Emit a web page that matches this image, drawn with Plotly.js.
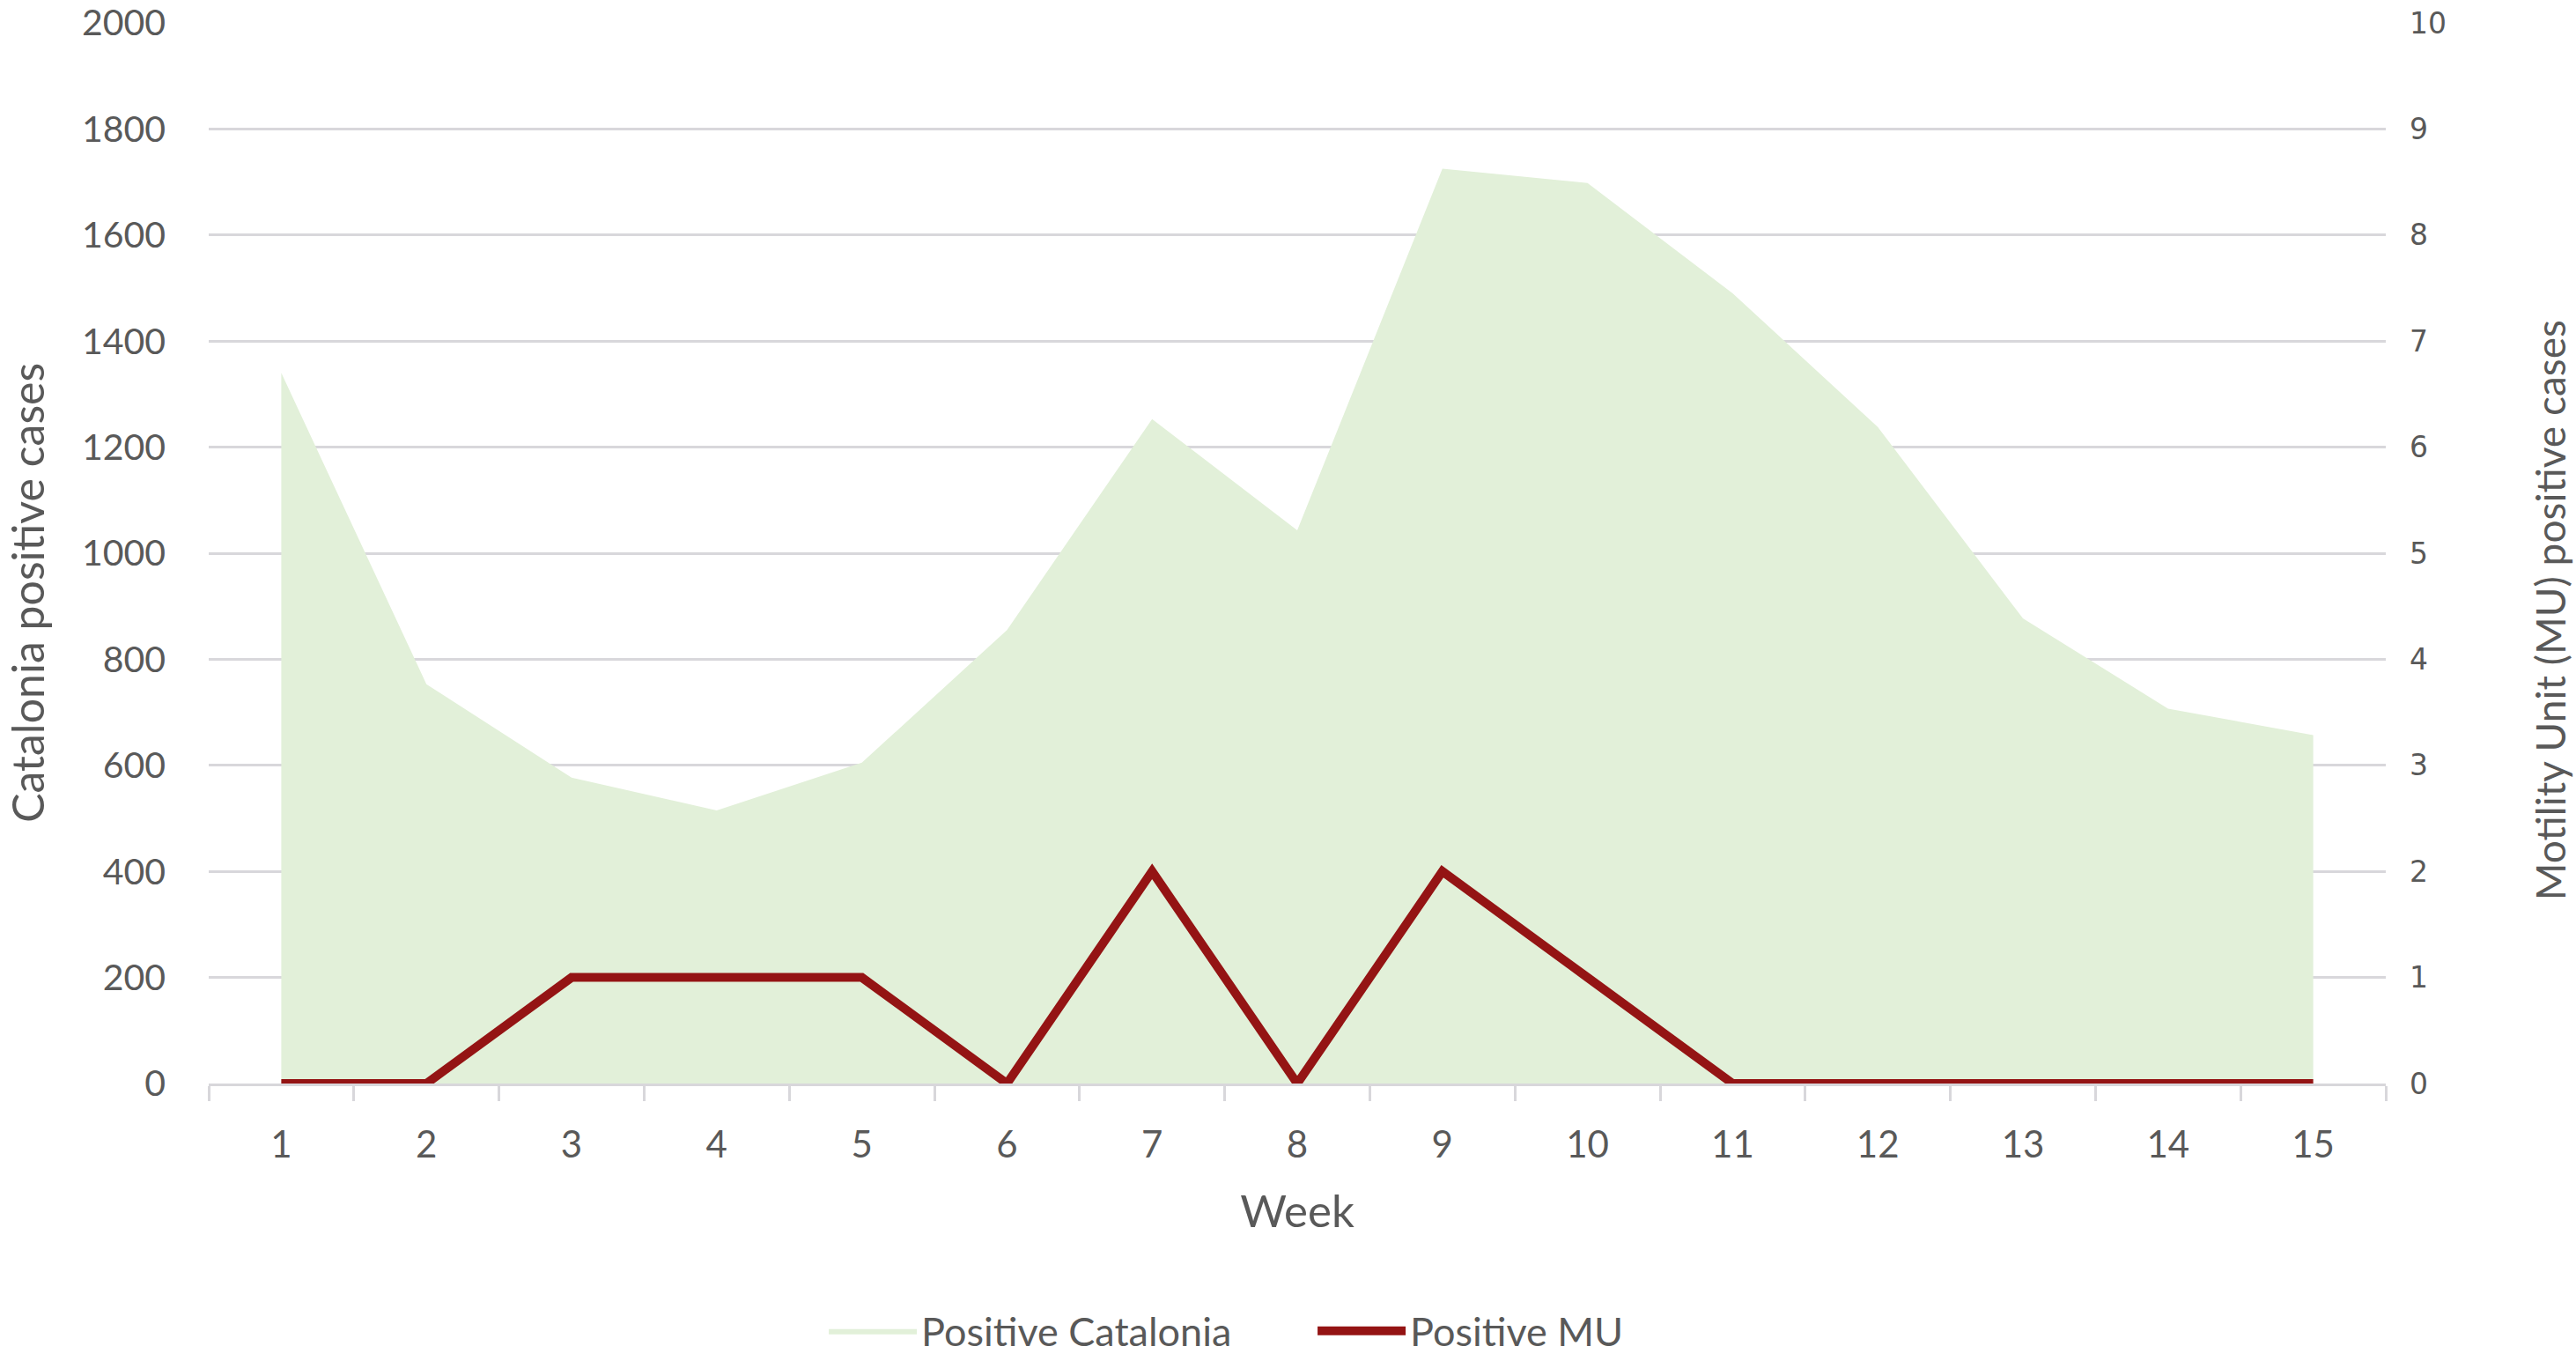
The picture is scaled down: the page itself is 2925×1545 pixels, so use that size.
<!DOCTYPE html>
<html>
<head>
<meta charset="utf-8">
<script src="https://cdn.plot.ly/plotly-3.0.1.min.js"></script>
<style>html,body{margin:0;padding:0;background:#fff;}#chart{width:2925px;height:1545px;}</style>
</head>
<body>
<div id="chart"></div>
<script>
const weeks = ['1','2','3','4','5','6','7','8','9','10','11','12','13','14','15'];
const positiveCatalonia = [1340, 753, 577, 515, 605, 855, 1253, 1043, 1725, 1698, 1490, 1238, 877, 707, 657];
const positiveMU = [0, 0, 1, 1, 1, 0, 2, 0, 2, 1, 0, 0, 0, 0, 0];
const leftTicks = [0, 200, 400, 600, 800, 1000, 1200, 1400, 1600, 1800, 2000];
const rightTicks = [0, 1, 2, 3, 4, 5, 6, 7, 8, 9, 10];

const textColor = '#595959';
const gridColor = '#d8d7db';
const baseFont = 'Lato, "Open Sans", sans-serif';

const traces = [
  {
    x: weeks, y: positiveCatalonia, name: 'Positive Catalonia',
    type: 'scatter', mode: 'lines', fill: 'tozeroy',
    fillcolor: '#e2f0d9', line: {width: 0, color: '#e2f0d9'},
    yaxis: 'y', hoverinfo: 'skip'
  },
  {
    x: weeks, y: positiveMU, name: 'Positive MU',
    type: 'scatter', mode: 'lines',
    line: {width: 10, color: '#941414'},
    yaxis: 'y2', hoverinfo: 'skip'
  }
];

const layout = {
  width: 2925, height: 1545,
  paper_bgcolor: '#ffffff', plot_bgcolor: '#ffffff',
  margin: {l: 237, r: 216, t: 26, b: 315, autoexpand: false},
  font: {family: baseFont, color: textColor, size: 42},
  showlegend: true,
  legend: {
    orientation: 'h', x: 0.2828, xanchor: 'left', y: -0.2334, yanchor: 'middle',
    font: {size: 45, color: textColor, family: baseFont},
    itemwidth: 100, entrywidth: 440, entrywidthmode: 'pixels', traceorder: 'normal'
  },
  xaxis: {
    type: 'category', categoryorder: 'array', categoryarray: weeks,
    range: [-0.5, 14.5],
    tickson: 'boundaries', ticks: 'outside', ticklen: 17, tickwidth: 3, tickcolor: gridColor,
    showline: true, linecolor: gridColor, linewidth: 3,
    showgrid: false, zeroline: false,
    tickfont: {size: 42, color: textColor, family: baseFont},
    ticklabelstandoff: 31,
    title: {text: 'Week', font: {size: 51, color: textColor, family: baseFont}, standoff: 35}
  },
  yaxis: {
    range: [0, 2000], tickvals: leftTicks, ticktext: leftTicks.map(String),
    showgrid: true, gridcolor: gridColor, gridwidth: 3,
    zeroline: false, showline: false, ticks: '',
    tickfont: {size: 41, color: textColor, family: baseFont},
    ticklabelstandoff: 48, ticklabeloverflow: 'allow'
  },
  yaxis2: {
    range: [0, 10], tickvals: rightTicks, ticktext: rightTicks.map(String),
    overlaying: 'y', side: 'right',
    showgrid: false, zeroline: false, showline: false, ticks: '',
    tickfont: {size: 33, color: textColor, family: '"DejaVu Sans", sans-serif'},
    ticklabelstandoff: 26, ticklabeloverflow: 'allow'
  },
  annotations: [
    {
      text: 'Catalonia positive cases', textangle: -90,
      xref: 'paper', yref: 'paper', x: -0.0833, y: 0.4628,
      xanchor: 'center', yanchor: 'middle', showarrow: false,
      font: {size: 50, color: textColor, family: baseFont}
    },
    {
      text: 'Motility Unit (MU) positive cases', textangle: -90,
      xref: 'paper', yref: 'paper', x: 1.0753, y: 0.446,
      xanchor: 'center', yanchor: 'middle', showarrow: false,
      font: {size: 46, color: textColor, family: baseFont}
    }
  ]
};

Plotly.newPlot('chart', traces, layout, {displayModeBar: false, staticPlot: true});
</script>
</body>
</html>
